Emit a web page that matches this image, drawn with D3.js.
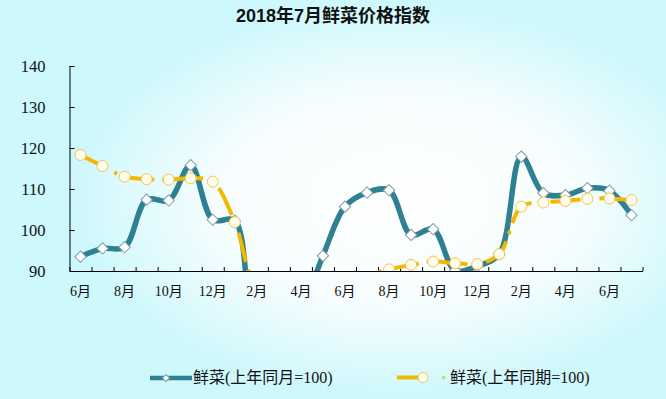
<!DOCTYPE html>
<html>
<head>
<meta charset="utf-8">
<script src="https://cdn.jsdelivr.net/npm/d3@7"></script>
<style>
body { margin: 0; overflow: hidden; }
svg { display: block; }
</style>
</head>
<body>
<div id="chart"></div>
<script>
// 2018年7月鲜菜价格指数
var months = ["2016-06","2016-07","2016-08","2016-09","2016-10","2016-11","2016-12",
    "2017-01","2017-02","2017-03","2017-04","2017-05","2017-06","2017-07","2017-08",
    "2017-09","2017-10","2017-11","2017-12","2018-01","2018-02","2018-03","2018-04",
    "2018-05","2018-06","2018-07"];
var tickLabels = ["6月","8月","10月","12月","2月","4月","6月","8月","10月","12月","2月","4月","6月"];
var yTicks = [90, 100, 110, 120, 130, 140];

// 鲜菜(上年同月=100)
var sameMonth = [93.5, 95.5, 95.8, 107.4, 107.2, 115.8, 102.5, 102.3, 76.0, 76.5, 81.0, 93.7, 105.7,
    109.1, 109.7, 98.8, 100.2, 90.1, 91.2, 94.1, 117.9, 109.0, 108.5, 110.2, 109.6, 103.6];
// 鲜菜(上年同期=100)
var samePeriod = [118.3, 115.6, 113.0, 112.4, 112.3, 112.6, 111.8, 101.9, 86.0, 84.0, 84.5, 86.0, 87.8,
    89.0, 90.4, 91.5, 92.3, 91.9, 91.7, 94.1, 105.7, 106.7, 107.1, 107.6, 107.7, 107.3];
var seriesNames = ["鲜菜(上年同月=100)", "鲜菜(上年同期=100)"];

var blue = "#2e8092", yellow = "#f4b800";
var width = 666, height = 399;
var margin = { top: 66, right: 23.5, bottom: 128, left: 69.5 };
var plotW = width - margin.left - margin.right,
    plotH = height - margin.top - margin.bottom;

var svg = d3.select("#chart").append("svg")
    .attr("width", width)
    .attr("height", height);

// Background
var defs = svg.append("defs");
var grad = defs.append("radialGradient")
    .attr("id", "bg")
    .attr("gradientUnits", "userSpaceOnUse")
    .attr("cx", 400).attr("cy", 200).attr("r", 330)
    .attr("gradientTransform", "translate(400,200) scale(1,0.6) translate(-400,-200)");
grad.append("stop").attr("offset", "0%").attr("stop-color", "#ffffff");
grad.append("stop").attr("offset", "55%").attr("stop-color", "#f6fdfe");
grad.append("stop").attr("offset", "100%").attr("stop-color", "#cdf8fc");
svg.append("rect").attr("width", width).attr("height", height).attr("fill", "#cdf8fc");
svg.append("rect").attr("width", width).attr("height", height).attr("fill", "url(#bg)");

defs.append("clipPath").attr("id", "plotClip")
    .append("rect").attr("x", 0).attr("y", 0).attr("width", plotW).attr("height", plotH);

// Title
svg.append("text")
    .attr("x", 333)
    .attr("y", 22)
    .attr("text-anchor", "middle")
    .style("font-family", "'Liberation Sans', 'Noto Sans CJK SC', sans-serif")
    .style("font-weight", "bold")
    .style("font-size", "18px")
    .attr("fill", "#111")
    .text("2018年7月鲜菜价格指数");

var g = svg.append("g")
    .attr("transform", "translate(" + margin.left + "," + margin.top + ")");

var x = d3.scaleBand().domain(months).range([0, plotW]).padding(0);
var xi = d3.scaleLinear().domain([0, months.length]).range([0, plotW]);
var y = d3.scaleLinear().domain([90, 140]).range([plotH, 0]);

// Y axis
var axisY = g.append("g")
    .call(d3.axisLeft(y).tickValues(yTicks).tickSize(-5).tickSizeOuter(0).tickPadding(24));
axisY.selectAll("text")
    .style("font-family", "'Liberation Serif', serif")
    .style("font-size", "16.5px")
    .attr("fill", "#111");

// X axis (ticks at month boundaries)
g.append("g")
    .attr("transform", "translate(0," + plotH + ")")
    .call(d3.axisBottom(xi).tickValues(d3.range(months.length + 1)).tickSize(-4).tickSizeOuter(0).tickFormat(""));

var labelAxis = g.append("g")
    .attr("transform", "translate(0," + plotH + ")")
    .call(d3.axisBottom(x)
        .tickValues(months.filter(function (d, i) { return i % 2 === 0; }))
        .tickSize(0).tickPadding(15)
        .tickFormat(function (d, i) { return tickLabels[i]; }));
labelAxis.select(".domain").remove();
labelAxis.selectAll("text")
    .style("font-family", "'Liberation Serif', 'Noto Sans CJK SC', serif")
    .style("font-size", "14px")
    .attr("fill", "#111");

g.selectAll(".domain, .tick line").attr("stroke", "#000");

// Lines
var cx = function (d, i) { return x(months[i]) + x.bandwidth() / 2; };
var line = d3.line()
    .x(cx)
    .y(function (d) { return y(d); })
    .curve(d3.curveCatmullRom.alpha(0.5));

var plot = g.append("g").attr("clip-path", "url(#plotClip)");

plot.append("path")
    .datum(sameMonth)
    .attr("d", line)
    .attr("fill", "none")
    .attr("stroke", blue)
    .attr("stroke-width", 5.5);

plot.selectAll("rect.diamond")
    .data(sameMonth)
    .enter()
    .append("rect")
    .attr("class", "diamond")
    .attr("x", -4).attr("y", -4)
    .attr("width", 8).attr("height", 8)
    .attr("transform", function (d, i) {
        return "translate(" + cx(d, i) + "," + y(d) + ") rotate(45)";
    })
    .attr("fill", "#ffffff")
    .attr("stroke", "#7f9ea6")
    .attr("stroke-width", 1)
    .style("display", function (d) { return d < 90 ? "none" : null; });

plot.append("path")
    .datum(samePeriod)
    .attr("d", line)
    .attr("fill", "none")
    .attr("stroke", yellow)
    .attr("stroke-width", 4)
    .attr("stroke-dasharray", "30,8,3,8");

plot.selectAll("circle.pt")
    .data(samePeriod)
    .enter()
    .append("circle")
    .attr("class", "pt")
    .attr("cx", cx)
    .attr("cy", function (d) { return y(d); })
    .attr("r", 5.5)
    .attr("fill", "#fffcea")
    .attr("stroke", "#ebc656")
    .attr("stroke-width", 1)
    .style("display", function (d) { return d < 90 ? "none" : null; });

// Legend
var legend = svg.append("g").attr("class", "legend");
var legendText = function (s, lx) {
    legend.append("text")
        .attr("x", lx)
        .attr("y", 377)
        .attr("dy", "0.35em")
        .style("font-family", "'Liberation Serif', 'Noto Sans CJK SC', serif")
        .style("font-size", "16px")
        .attr("fill", "#111")
        .text(s);
};
legend.append("line")
    .attr("x1", 150).attr("x2", 192).attr("y1", 378).attr("y2", 378)
    .attr("stroke", blue).attr("stroke-width", 4.5);
legend.append("rect")
    .attr("x", -2.5).attr("y", -2.5).attr("width", 5).attr("height", 5)
    .attr("transform", "translate(166,378) rotate(45)")
    .attr("fill", "#fff").attr("stroke", "#7f9ea6");
legendText(seriesNames[0], 193);

legend.append("line")
    .attr("x1", 397).attr("x2", 421).attr("y1", 377.5).attr("y2", 377.5)
    .attr("stroke", yellow).attr("stroke-width", 4);
legend.append("circle")
    .attr("cx", 423).attr("cy", 377.5).attr("r", 5)
    .attr("fill", "#fffcea").attr("stroke", "#ebc656");
legend.append("circle")
    .attr("cx", 443.5).attr("cy", 377.5).attr("r", 1.8)
    .attr("fill", "#c8dc5a");
legendText(seriesNames[1], 450);
</script>
</body>
</html>
